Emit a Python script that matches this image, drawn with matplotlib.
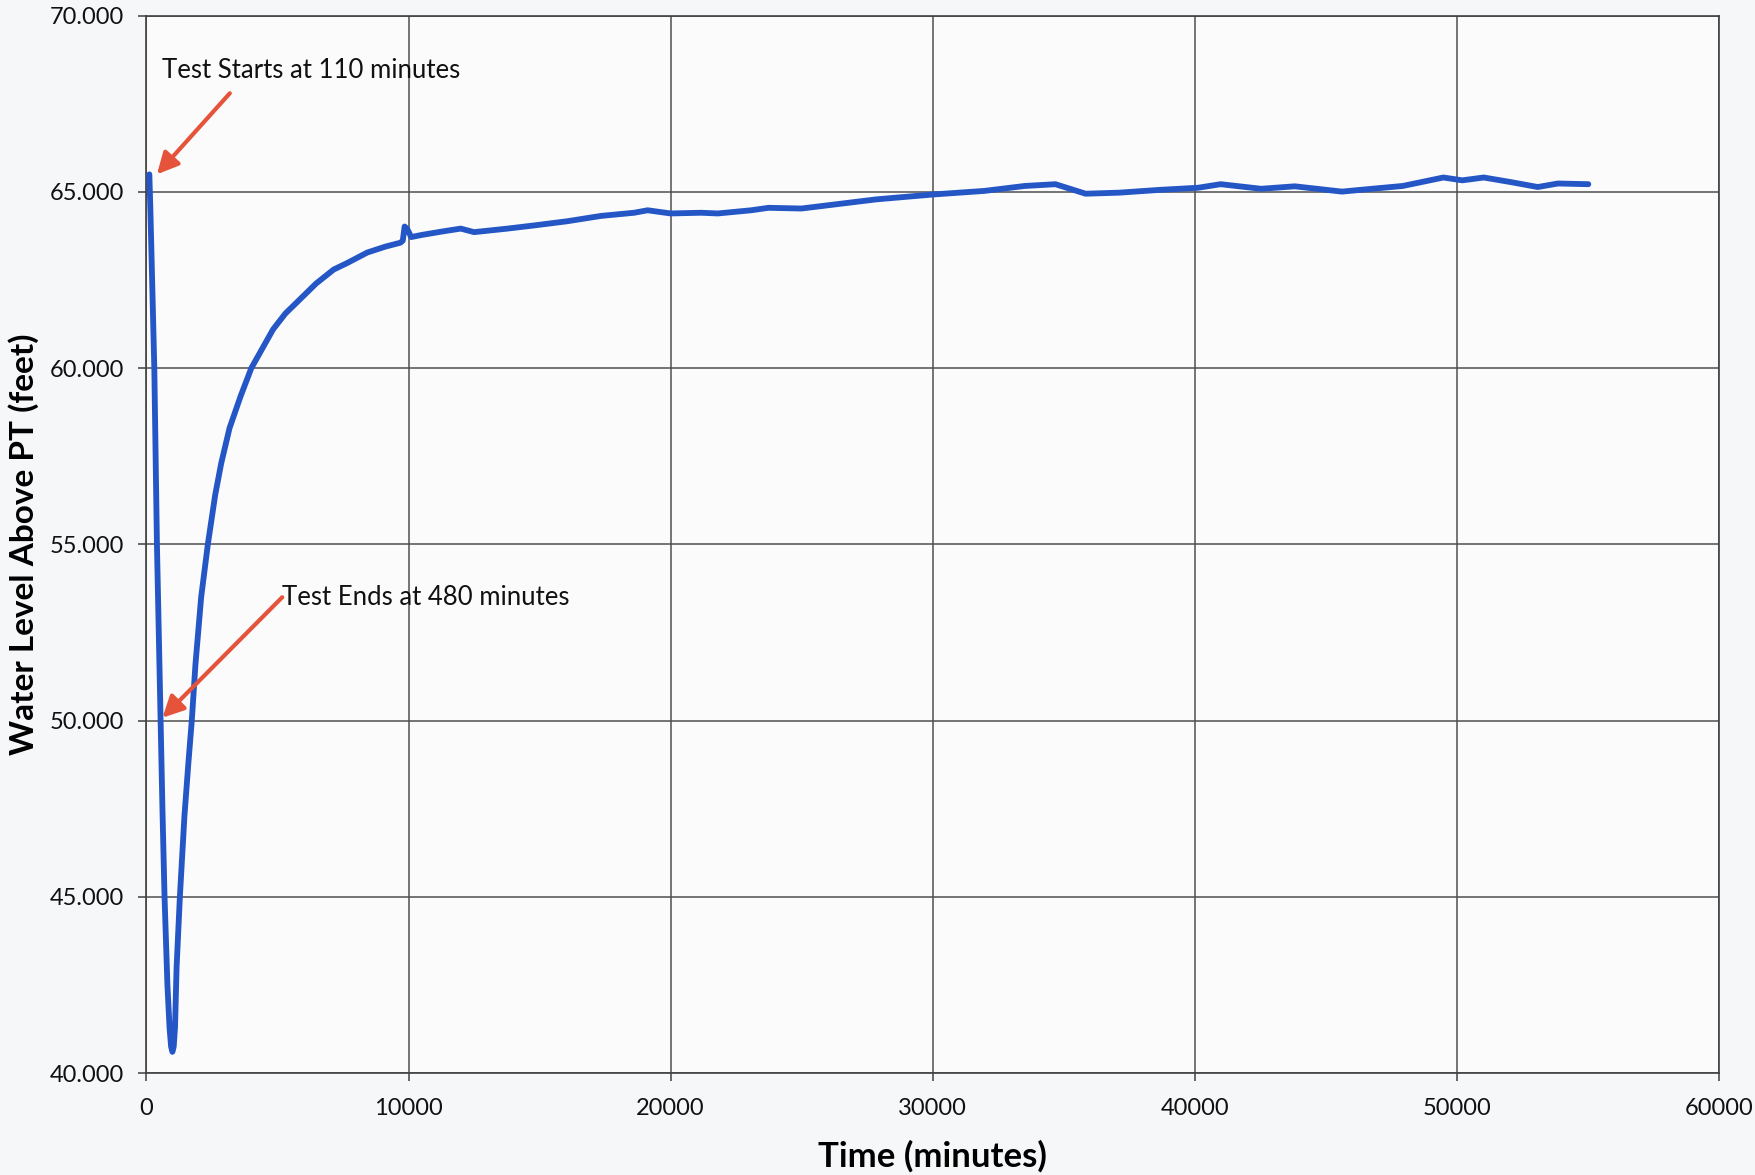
import matplotlib
matplotlib.use("Agg")
import matplotlib.pyplot as plt
from matplotlib.ticker import FormatStrFormatter

# Time (minutes) and water level (feet)
time_min = [110, 150, 300, 400, 470, 540, 610, 690, 800, 880, 940, 990,
            1040, 1090, 1150, 1275, 1450, 1600, 1730, 1870, 2087, 2342,
            2622, 2852, 3170, 3590, 4000, 4830, 5300, 5920, 6470, 7145,
            7650, 8420, 9120, 9690, 9780, 9850, 9950, 10100, 10500, 11300,
            11990, 12500, 13770, 14790, 16065, 17340, 18610, 19120, 20000,
            21160, 21800, 23070, 23730, 24990, 26310, 27850, 30040, 31970,
            33510, 34680, 35830, 37120, 38670, 40130, 40980, 42530, 43810,
            45610, 46900, 47930, 49480, 50200, 51020, 52050, 53080, 53850,
            55010]
level_ft = [65.50, 64.50, 60.00, 55.00, 52.50, 50.00, 47.50, 45.00, 42.50,
            41.30, 40.75, 40.60, 40.75, 41.30, 43.00, 45.00, 47.30, 48.80,
            50.00, 51.60, 53.50, 55.00, 56.40, 57.30, 58.30, 59.20, 60.00,
            61.10, 61.55, 62.00, 62.40, 62.80, 62.98, 63.28, 63.45, 63.56,
            63.62, 64.02, 63.95, 63.72, 63.78, 63.88, 63.96, 63.86, 63.96,
            64.05, 64.17, 64.32, 64.41, 64.48, 64.39, 64.41, 64.39, 64.48,
            64.55, 64.53, 64.65, 64.79, 64.93, 65.03, 65.17, 65.22, 64.95,
            64.98, 65.06, 65.12, 65.22, 65.09, 65.16, 65.01, 65.10, 65.17,
            65.41, 65.33, 65.41, 65.28, 65.14, 65.24, 65.22]

x_ticks = [0, 10000, 20000, 30000, 40000, 50000, 60000]
y_ticks = [40, 45, 50, 55, 60, 65, 70]

ann_start_text = "Test Starts at 110 minutes"
ann_end_text = "Test Ends at 480 minutes"

plt.rcParams['font.family'] = ['Lato', 'DejaVu Sans']

fig = plt.figure(figsize=(17.56, 11.75), dpi=100, facecolor='#F6F7F9')
ax = fig.add_axes([0.0834, 0.0868, 0.8956, 0.8998])
ax.set_facecolor('#FBFBFC')

ax.plot(time_min, level_ft, color='#2457C5', lw=4.2, solid_capstyle='round',
        solid_joinstyle='round', zorder=3)

ax.set_xlim(0, 60000)
ax.set_ylim(40, 70)
ax.set_xticks(x_ticks)
ax.set_yticks(y_ticks)
ax.yaxis.set_major_formatter(FormatStrFormatter('%.3f'))
ax.xaxis.set_major_formatter(FormatStrFormatter('%d'))
ax.grid(True, color='#505050', lw=1.1, zorder=1)
for s in ax.spines.values():
    s.set_color('#404040')
    s.set_linewidth(1.2)
ax.tick_params(axis='both', direction='out', length=6, width=1.1,
               color='#404040', labelsize=17, labelcolor='#111111')
ax.tick_params(axis='y', pad=10)
ax.tick_params(axis='x', pad=12)

ax.set_xlabel('Time (minutes)', fontsize=25, fontweight='bold', labelpad=15)
ax.set_ylabel('Water Level Above PT (feet)', fontsize=24, fontweight='bold',
              labelpad=8)

arrow = dict(arrowstyle='-|>', color='#E5533A', lw=3, mutation_scale=32,
             shrinkA=0, shrinkB=0)
ax.annotate('', xy=(400, 65.5), xytext=(3180, 67.8), arrowprops=arrow, zorder=4)
ax.text(600, 68.44, ann_start_text, fontsize=18.5, va='center', ha='left',
        color='#111111')
ax.annotate('', xy=(610, 50.08), xytext=(5180, 53.5), arrowprops=arrow, zorder=4)
ax.text(5180, 53.5, ann_end_text, fontsize=18.5, va='center', ha='left',
        color='#111111')

fig.savefig('out.png', dpi=100, facecolor=fig.get_facecolor())
